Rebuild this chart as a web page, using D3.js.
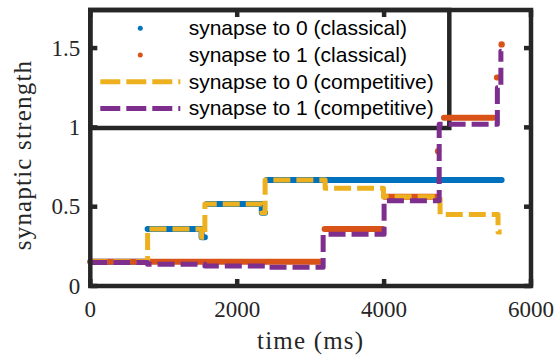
<!DOCTYPE html>
<html>
<head>
<meta charset="utf-8">
<script src="https://cdn.jsdelivr.net/npm/d3@7"></script>
<style>
  body { margin: 0; background: #fff; }
  svg { display: block; }
  .serif { font-family: "Liberation Serif", "Times New Roman", Times, serif; }
  .sans { font-family: "Liberation Sans", Arial, Helvetica, sans-serif; }
</style>
</head>
<body>
<div id="chart"></div>
<script>
// values (time in ms, strength)
const xTicks = [0, 2000, 4000, 6000];
const yTicks = [0, 0.5, 1, 1.5];
const yTickLabels = ["0", "0.5", "1", "1.5"];

const seriesNames = [
  "synapse to 0 (classical)",
  "synapse to 1 (classical)",
  "synapse to 0 (competitive)",
  "synapse to 1 (competitive)"
];
const seriesColors = ["#0072BD", "#D95319", "#EDB120", "#7E2F8E"];

// classical runs: dense dots, no vertical joins between runs
const classical0Runs = [
  [[0, 0.153], [771, 0.153]],
  [[780, 0.36], [1515, 0.36], [1515, 0.307], [1560, 0.307]],
  [[1585, 0.517], [2335, 0.517], [2335, 0.462], [2380, 0.462]],
  [[2400, 0.668], [5600, 0.668]]
];
const classical0Dots = [];

const classical1Runs = [
  [[0, 0.153], [3150, 0.153]],
  [[3190, 0.36], [3980, 0.36]],
  [[4005, 0.563], [4720, 0.563]],
  [[4815, 1.06], [5490, 1.06]],
  [[5535, 1.315], [5575, 1.315]]
];
const classical1Dots = [[4735, 0.85], [5600, 1.523]];

// competitive: step values (value holds from t until next t)
const competitive0 = [
  [0, 0.153], [780, 0.36], [1515, 0.307], [1560, 0.517], [2335, 0.462],
  [2380, 0.668], [3197, 0.616], [3991, 0.563], [4762, 0.45], [5551, 0.34], [5600, 0.34]
];
const competitive1 = [
  [0, 0.148], [780, 0.137], [1560, 0.126], [2380, 0.118], [3170, 0.326],
  [4000, 0.538], [4750, 1.019], [5542, 1.25], [5590, 1.48], [5600, 1.48]
];

const width = 558, height = 360;
const margin = {top: 10, right: 27, bottom: 74, left: 90.3};
const axisColor = "#262626";

const svg = d3.select("#chart").append("svg")
  .attr("width", width)
  .attr("height", height);

const x = d3.scaleLinear().domain([0, 6000]).range([margin.left, width - margin.right]);
const y = d3.scaleLinear().domain([0, 1.74]).range([height - margin.bottom, margin.top]);

const stepLine = d3.line().x(d => x(d[0])).y(d => y(d[1])).curve(d3.curveStepAfter);

// legend box (data is drawn over it in the reference)
const legend = svg.append("g");
const lx0 = x(0), ly0 = y.range()[1];
legend.append("rect")
  .attr("x", lx0).attr("y", ly0)
  .attr("width", 359).attr("height", 118)
  .attr("fill", "#fff")
  .attr("stroke", axisColor)
  .attr("stroke-width", 4.5);

const rowH = 26.7;
seriesNames.forEach((name, i) => {
  const cy = ly0 + 18.3 + i * rowH;
  if (i < 2) {
    legend.append("circle")
      .attr("cx", lx0 + 50).attr("cy", cy).attr("r", 2.5)
      .attr("fill", seriesColors[i]);
  } else {
    legend.append("line")
      .attr("x1", lx0 + 10).attr("x2", lx0 + 90)
      .attr("y1", cy).attr("y2", cy)
      .attr("stroke", seriesColors[i])
      .attr("stroke-width", 5)
      .attr("stroke-dasharray", "20,6");
  }
  legend.append("text")
    .attr("class", "sans")
    .attr("x", lx0 + 98.4).attr("y", cy + 7)
    .attr("font-size", 21)
    .attr("fill", "#000")
    .text(name);
});

// data
const plot = svg.append("g");

function drawClassical(runs, dots, color) {
  const g = plot.append("g");
  g.selectAll("path")
    .data(runs)
    .join("path")
    .attr("d", d => stepLine(d))
    .attr("fill", "none")
    .attr("stroke", color)
    .attr("stroke-width", 6)
    .attr("stroke-linecap", "round")
    .attr("stroke-linejoin", "round");
  g.selectAll("circle")
    .data(dots)
    .join("circle")
    .attr("cx", d => x(d[0]))
    .attr("cy", d => y(d[1]))
    .attr("r", 3.2)
    .attr("fill", color);
}

function drawCompetitive(data, color) {
  plot.append("path")
    .attr("d", stepLine(data))
    .attr("fill", "none")
    .attr("stroke", color)
    .attr("stroke-width", 5)
    .attr("stroke-linejoin", "round")
    .attr("stroke-dasharray", "17,6");
}

drawClassical(classical0Runs, classical0Dots, seriesColors[0]);
drawClassical(classical1Runs, classical1Dots, seriesColors[1]);
drawCompetitive(competitive0, seriesColors[2]);
drawCompetitive(competitive1, seriesColors[3]);

// axes box with inward ticks on all four sides
const axes = svg.append("g");
const [xl, xr] = x.range();
const [yb, yt] = y.range();
const tickLen = 7;

axes.append("rect")
  .attr("x", xl).attr("y", yt)
  .attr("width", xr - xl).attr("height", yb - yt)
  .attr("fill", "none")
  .attr("stroke", axisColor)
  .attr("stroke-width", 4.5);

xTicks.forEach(t => {
  axes.append("line")
    .attr("x1", x(t)).attr("x2", x(t))
    .attr("y1", yb).attr("y2", yb - tickLen)
    .attr("stroke", axisColor).attr("stroke-width", 4.5);
  axes.append("line")
    .attr("x1", x(t)).attr("x2", x(t))
    .attr("y1", yt).attr("y2", yt + tickLen)
    .attr("stroke", axisColor).attr("stroke-width", 4.5);
  axes.append("text")
    .attr("class", "serif")
    .attr("x", x(t)).attr("y", yb + 30.5)
    .attr("text-anchor", "middle")
    .attr("font-size", 23)
    .attr("fill", axisColor)
    .text(t);
});

yTicks.forEach((v, i) => {
  axes.append("line")
    .attr("x1", xl).attr("x2", xl + tickLen)
    .attr("y1", y(v)).attr("y2", y(v))
    .attr("stroke", axisColor).attr("stroke-width", 4.5);
  axes.append("line")
    .attr("x1", xr).attr("x2", xr - tickLen)
    .attr("y1", y(v)).attr("y2", y(v))
    .attr("stroke", axisColor).attr("stroke-width", 4.5);
  axes.append("text")
    .attr("class", "serif")
    .attr("x", xl - 10).attr("y", y(v) + 7.5)
    .attr("text-anchor", "end")
    .attr("font-size", 23)
    .attr("fill", axisColor)
    .text(yTickLabels[i]);
});

svg.append("text")
  .attr("class", "serif")
  .attr("x", (xl + xr) / 2).attr("y", 349)
  .attr("text-anchor", "middle")
  .attr("font-size", 25)
  .attr("letter-spacing", 1.2)
  .attr("fill", axisColor)
  .text("time (ms)");

svg.append("text")
  .attr("class", "serif")
  .attr("transform", `translate(31,${155}) rotate(-90)`)
  .attr("text-anchor", "middle")
  .attr("font-size", 25)
  .attr("letter-spacing", 1.2)
  .attr("fill", axisColor)
  .text("synaptic strength");
</script>
</body>
</html>
